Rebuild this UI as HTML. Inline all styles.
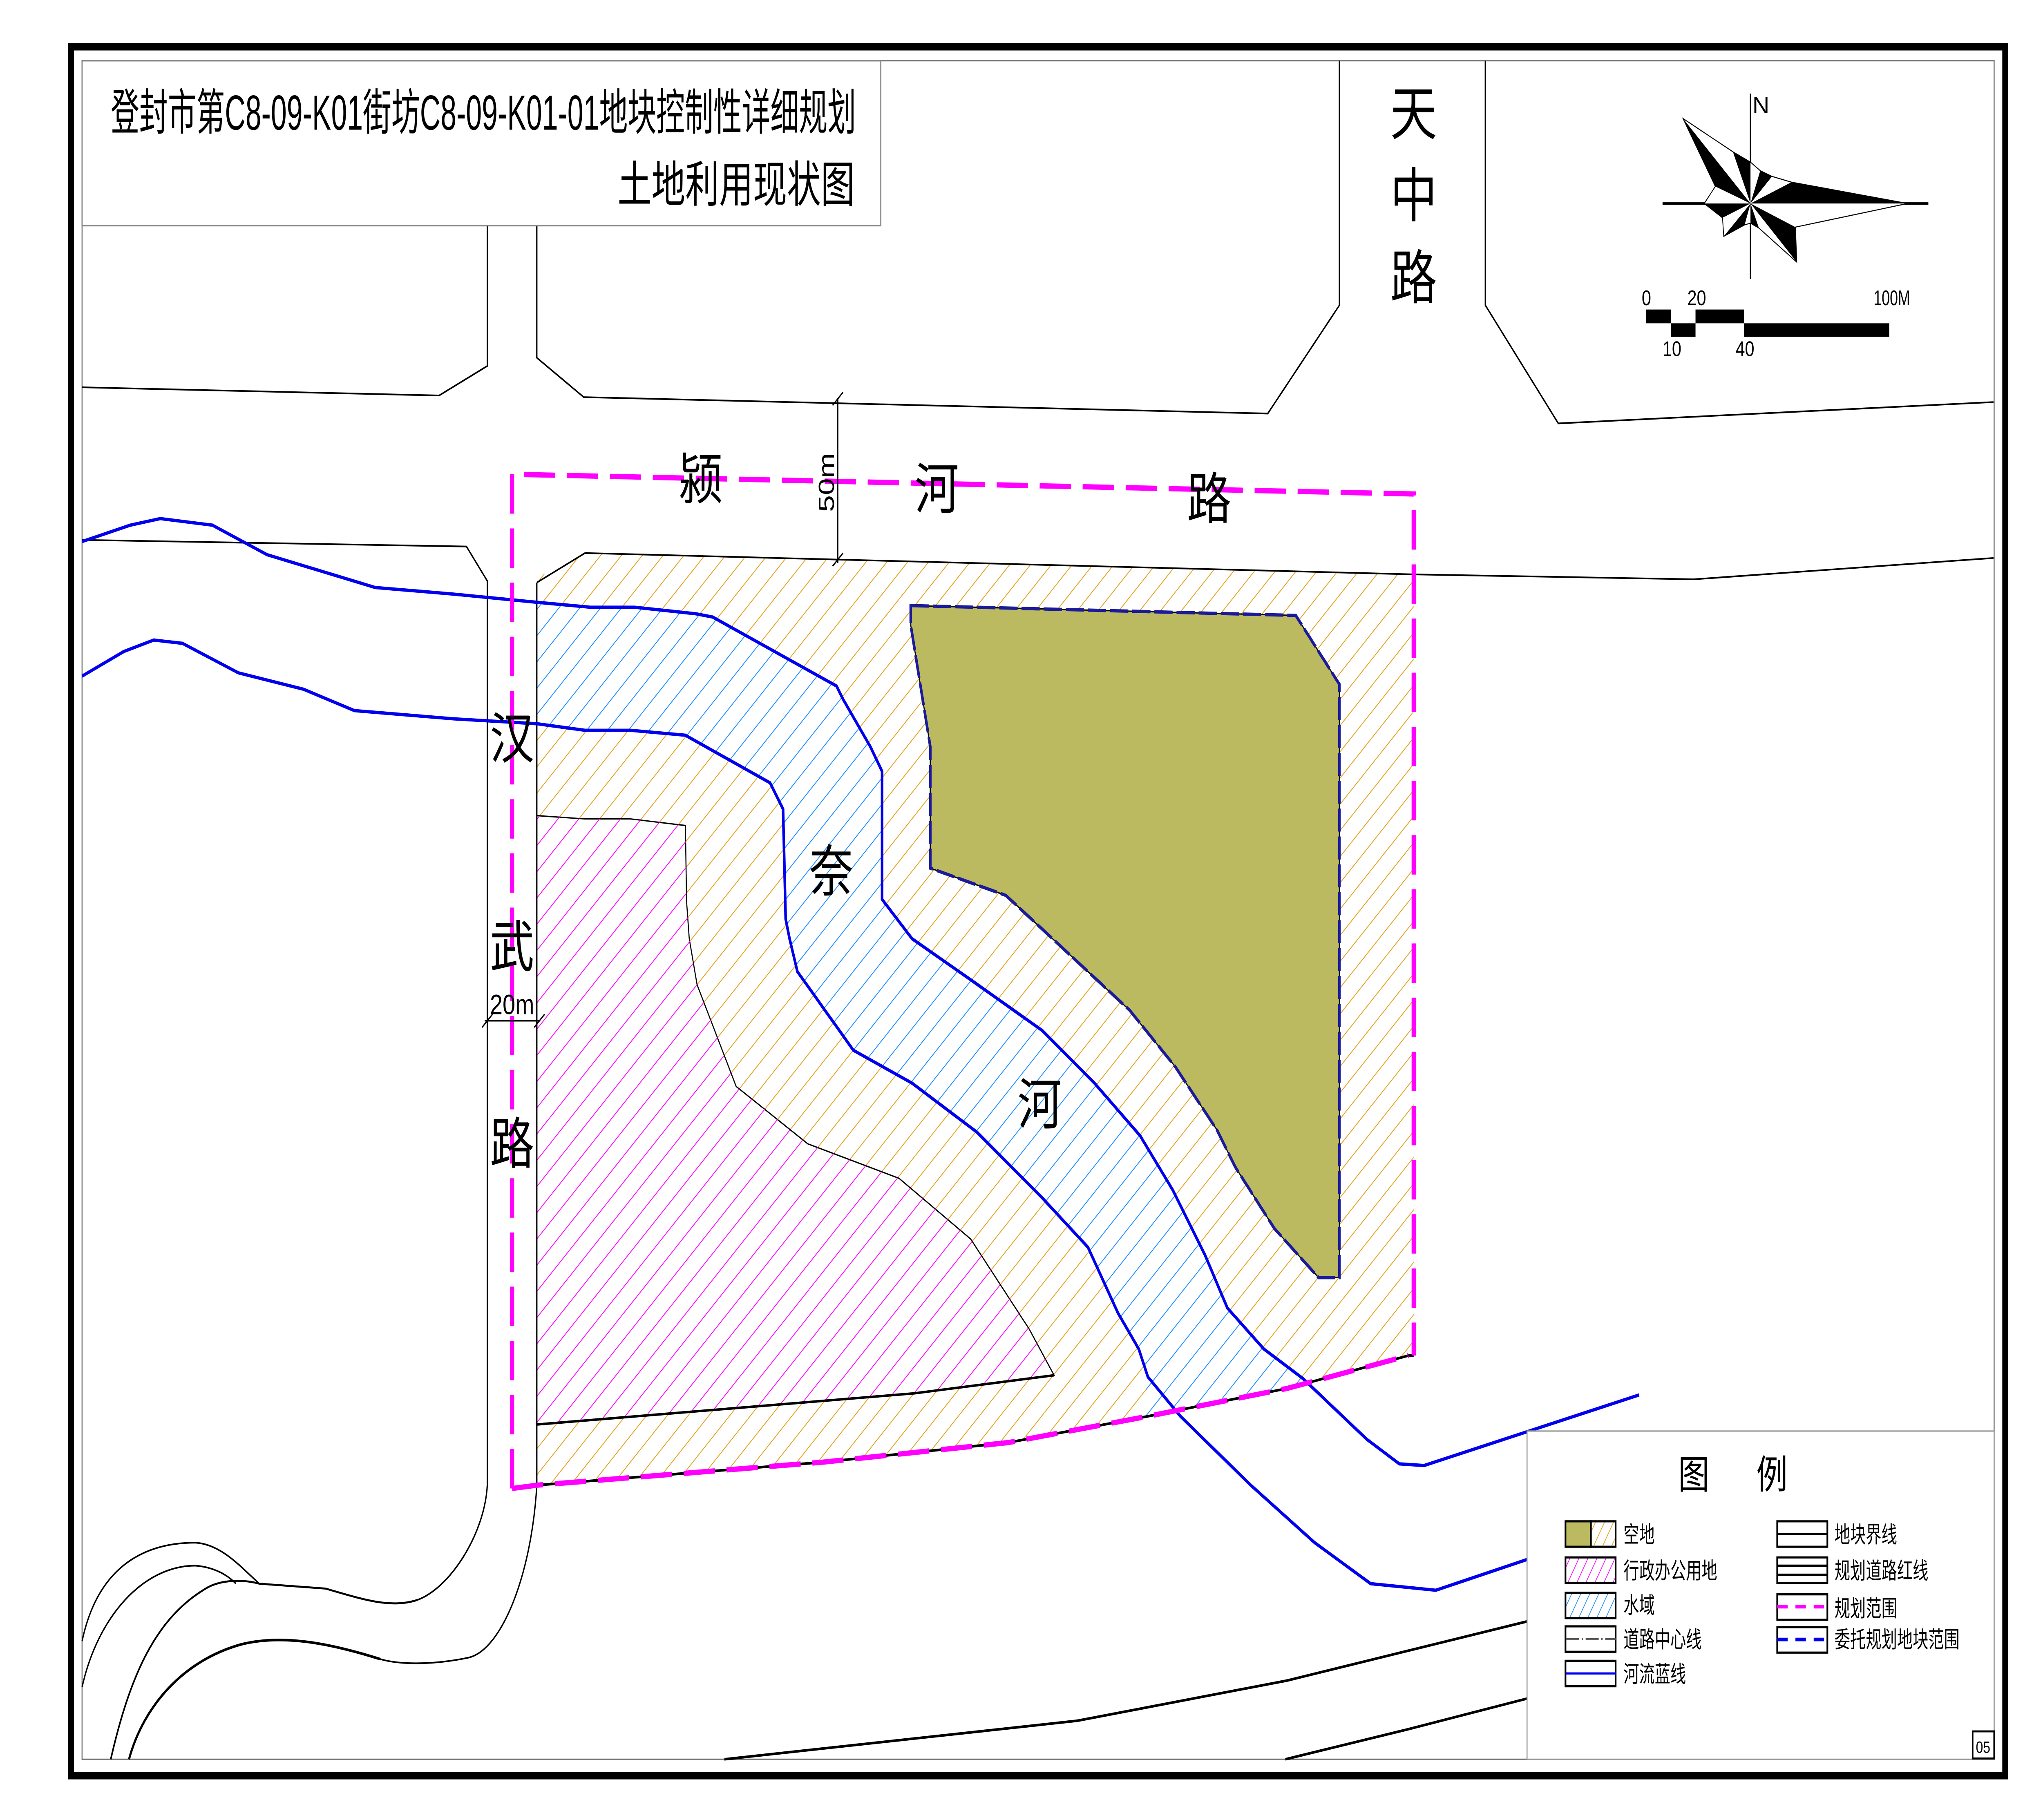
<!DOCTYPE html>
<html><head><meta charset="utf-8">
<style>
html,body{margin:0;padding:0;background:#fff;width:100vw;height:100vh;overflow:hidden;}
svg{display:block;width:100vw;height:100vh;}
text{font-family:"Liberation Sans","Noto Sans CJK SC",sans-serif;}
</style></head>
<body>
<svg viewBox="0 0 1568 1109" preserveAspectRatio="none" xmlns="http://www.w3.org/2000/svg">
<defs>
<pattern id="hO" patternUnits="userSpaceOnUse" width="11.3" height="11.3" patternTransform="rotate(45)">
<line x1="0" y1="0" x2="0" y2="11.3" stroke="#e0a21e" stroke-width="1.1"/></pattern>
<pattern id="hP" patternUnits="userSpaceOnUse" width="11.3" height="11.3" patternTransform="rotate(45)">
<line x1="0" y1="0" x2="0" y2="11.3" stroke="#ff00ff" stroke-width="1.1"/></pattern>
<pattern id="hB" patternUnits="userSpaceOnUse" width="11.3" height="11.3" patternTransform="rotate(45)">
<line x1="0" y1="0" x2="0" y2="11.3" stroke="#1a8cff" stroke-width="1.1"/></pattern>
<pattern id="hOs" patternUnits="userSpaceOnUse" width="6" height="6" patternTransform="rotate(30)">
<line x1="0" y1="0" x2="0" y2="6" stroke="#e0a21e" stroke-width="1"/></pattern>
<pattern id="hPs" patternUnits="userSpaceOnUse" width="6" height="6" patternTransform="rotate(30)">
<line x1="0" y1="0" x2="0" y2="6" stroke="#ff00ff" stroke-width="1"/></pattern>
<pattern id="hBs" patternUnits="userSpaceOnUse" width="6" height="6" patternTransform="rotate(30)">
<line x1="0" y1="0" x2="0" y2="6" stroke="#1a8cff" stroke-width="1"/></pattern>
<clipPath id="site"><path d="M412,352 L450,337 L1085,350 L1085,826 L1081,826 L988,846 L881,863 L774,879 L631,891 L412,905 Z"/></clipPath>
</defs>

<rect x="0" y="0" width="1568" height="1109" fill="#fff"/>
<rect x="54.5" y="28.5" width="1484.5" height="1053.5" fill="none" stroke="#000" stroke-width="4.5"/>
<rect x="63" y="37" width="1467.5" height="1035" fill="none" stroke="#777" stroke-width="0.8"/>

<path d="M412,352 L450,337 L1085,350 L1085,826 L1081,826 L988,846 L881,863 L774,879 L631,891 L412,905 Z" fill="url(#hO)"/>
<g clip-path="url(#site)">
<path d="M412,367 L453,370 L487,370 L534,374 L547,376 L642,418 L647,426 L668,455 L677,470 L677,548 L700,572 L745,597 L800,628 L840,660 L875,692 L900,725 L925,765 L942,797 L970,822 L1000,840 L1049,877 L1060,900 L870,900 L881,839 L874,822 L858,800 L835,760 L800,730 L750,690 L700,660 L655,640 L612,592 L606,572 L603,560 L601,493 L591,477 L526,448 L484,445 L449,445 L412,441 Z" fill="#fff"/>
<path d="M412,367 L453,370 L487,370 L534,374 L547,376 L642,418 L647,426 L668,455 L677,470 L677,548 L700,572 L745,597 L800,628 L840,660 L875,692 L900,725 L925,765 L942,797 L970,822 L1000,840 L1049,877 L1060,900 L870,900 L881,839 L874,822 L858,800 L835,760 L800,730 L750,690 L700,660 L655,640 L612,592 L606,572 L603,560 L601,493 L591,477 L526,448 L484,445 L449,445 L412,441 Z" fill="url(#hB)"/>
</g>
<path d="M412,497 L449,499 L484,499 L526,503 L527,550 L529,572 L535,600 L565,662 L620,697 L690,718 L745,755 L790,810 L809,838 L702,849 L412,868 Z" fill="#fff" stroke="#000" stroke-width="0.8"/>
<path d="M412,497 L449,499 L484,499 L526,503 L527,550 L529,572 L535,600 L565,662 L620,697 L690,718 L745,755 L790,810 L809,838 L702,849 L412,868 Z" fill="url(#hP)"/>
<path d="M412,868 L702,849 L809,838" fill="none" stroke="#000" stroke-width="1.5"/>
<path d="M699,369 L994.5,375 L1028,417 L1028,778.5 L1012,778.5 L978,748.5 L948,711 L934,688.5 L902,650 L867,615.6 L772,545.6 L714,529 L714,455 L699,381 Z" fill="#bbba60" stroke="#000" stroke-width="0.8"/>
<path d="M699,369 L994.5,375 L1028,417 L1028,778.5 L1012,778.5 L978,748.5 L948,711 L934,688.5 L902,650 L867,615.6 L772,545.6 L714,529 L714,455 L699,381 Z" fill="none" stroke="#1a1a9a" stroke-width="2" stroke-dasharray="14,3"/>

<g fill="none" stroke="#000" stroke-width="1">
<path d="M63,236 L337,241 L374,223 L374,137"/>
<path d="M412,137 L412,218 L448,242 L973,252 L1028,186 L1028,37"/>
<path d="M1140,37 L1140,186 L1196,258 L1530,245"/>
<path d="M63,329 L358,333 L374,354 L374,905 C372,935 345,968 320,975"/>
<path d="M412,355 L449,337 L1085,350 L1300,353 L1530,340"/>
<path d="M412,355 L412,905 C408,960 385,1005 360,1010 C330,1015 305,1014 292,1011"/>
<path d="M63,1000 C75,955 110,940 150,940 C170,941 185,955 199,965"/>
<path d="M63,1028 C75,985 110,954 150,954 C165,955 175,960 181,965"/>
</g>
<g fill="none" stroke="#000" stroke-width="1.6">
<path d="M320,975 C300,980 280,975 250,968 L199,965 C185,962 170,963 160,967 C120,985 100,1020 85,1072" stroke-width="1.2"/>
<path d="M292,1011 C260,1003 220,995 185,1002 C140,1012 110,1040 99,1072"/>
<path d="M556,1072 L827,1048.5 L988,1024 L1172,988"/>
<path d="M986.5,1072 L1080.7,1053.7 L1172,1035"/>
<path d="M412,905 L631,891 L774,879 L881,863 L988,846 L1081,826 L1085,826"/>
</g>

<g fill="none" stroke="#0000ee" stroke-width="2">
<path d="M63,330 L100,320 L123,316 L163,320 L205,338 L288,358 L348,362 L412,367 L453,370 L487,370 L534,374 L547,376 L642,418 L647,426 L668,455 L677,470 L677,548 L700,572 L745,597 L800,628 L840,660 L875,692 L900,725 L925,765 L942,797 L970,822 L1000,840 L1049,877 L1074,892 L1093,893 L1258,850"/>
<path d="M63,412 L95,397 L118,390 L140,392 L183,410 L233,420 L272,433 L348,438 L412,441 L449,445 L484,445 L526,448 L591,477 L601,493 L603,560 L606,572 L612,592 L655,640 L700,660 L750,690 L800,730 L835,760 L858,800 L874,822 L881,839 L906,863 L960,905 L1009,940 L1052,965 L1102,969 L1173,950"/>
</g>

<path d="M393,907 L393,289 L1085,301 L1085,826 M393,907 L412,905 L631,891 L774,879 L881,863 L988,846 L1081,826" fill="none" stroke="#ff00ff" stroke-width="3.2" stroke-dasharray="24,9"/>

<g stroke="#000" stroke-width="0.9">
<line x1="643" y1="243" x2="643" y2="343"/>
<line x1="639" y1="247" x2="647" y2="239"/><line x1="639" y1="345" x2="647" y2="337"/>
<line x1="372" y1="622" x2="414" y2="622"/>
<line x1="370" y1="626" x2="378" y2="618"/><line x1="410" y1="626" x2="418" y2="618"/>
</g>
<text x="0" y="0" font-family="Liberation Serif,serif" font-size="17" transform="translate(640,312) rotate(-90)" textLength="36" lengthAdjust="spacingAndGlyphs">50m</text>
<text x="376" y="618" font-family="Liberation Serif,serif" font-size="17" textLength="34" lengthAdjust="spacingAndGlyphs">20m</text>

<g font-size="34" text-anchor="middle">
<text x="538" y="304">颍</text>
<text x="719" y="310">河</text>
<text x="928" y="316">路</text>
<text x="393" y="462">汉</text>
<text x="393" y="589">武</text>
<text x="393" y="709">路</text>
<text x="638" y="543">奈</text>
<text x="798" y="685">河</text>
<text x="1085" y="82" font-size="36">天</text>
<text x="1085" y="132" font-size="36">中</text>
<text x="1085" y="182" font-size="36">路</text>
</g>

<rect x="63" y="37" width="613" height="100.5" fill="#fff" stroke="#888" stroke-width="0.9"/>
<text x="85" y="79" font-size="30" textLength="572" lengthAdjust="spacingAndGlyphs">登封市第C8-09-K01街坊C8-09-K01-01地块控制性详细规划</text>
<text x="474" y="123" font-size="30" textLength="182" lengthAdjust="spacingAndGlyphs">土地利用现状图</text>

<g>
<line x1="1276" y1="124" x2="1480" y2="124" stroke="#000" stroke-width="1.5"/>
<line x1="1343.5" y1="57" x2="1343.5" y2="170" stroke="#000" stroke-width="1"/>
<path d="M1291.7,72.2 L1330,92.5 L1343.5,98.8 L1351,104 L1360,107.5 L1375,111 L1464,124 L1378,138.4 L1379,159.7 L1350,139 L1343.5,136 L1339,137 L1323,144 L1322,132.7 L1308,124 L1316.5,113.6 Z" fill="#fff" stroke="#000" stroke-width="0.6"/>
<g fill="#000">
<path d="M1343.5,124 L1291.7,72.2 L1316.5,113.6 Z"/>
<path d="M1343.5,124 L1330,92.5 L1343.5,98.8 Z"/>
<path d="M1343.5,124 L1351,104 L1360,107.5 Z"/>
<path d="M1343.5,124 L1375,111 L1464,124 Z"/>
<path d="M1343.5,124 L1378,138.4 L1379,159.7 Z"/>
<path d="M1343.5,124 L1350,139 L1343.5,136 Z"/>
<path d="M1343.5,124 L1339,137 L1323,144 Z"/>
<path d="M1343.5,124 L1322,132.7 L1308,124 Z"/>
</g>
<text x="1345" y="69" font-size="14" textLength="13" lengthAdjust="spacingAndGlyphs">N</text>
<rect x="1263.4" y="188.6" width="19.1" height="8.4" fill="#000"/>
<rect x="1282.5" y="197" width="18.8" height="8.3" fill="#000"/>
<rect x="1301.3" y="188.6" width="37.2" height="8.4" fill="#000"/>
<rect x="1338.5" y="197" width="111.5" height="8.3" fill="#000"/>
<g font-family="Liberation Serif,serif" font-size="13">
<text x="1260" y="186">0</text>
<text x="1295" y="186">20</text>
<text x="1438" y="186" textLength="28" lengthAdjust="spacingAndGlyphs">100M</text>
<text x="1276" y="217">10</text>
<text x="1332" y="217">40</text>
</g>
</g>

<rect x="1172" y="872" width="358.5" height="200" fill="#fff" stroke="#999" stroke-width="0.8"/>
<text x="1300" y="907" font-size="24" text-anchor="middle">图</text>
<text x="1360" y="907" font-size="24" text-anchor="middle">例</text>
<g stroke="#000" stroke-width="1.3">
<rect x="1201.5" y="927" width="19.5" height="15.5" fill="#bbba60"/>
<rect x="1221" y="927" width="19" height="15.5" fill="url(#hOs)"/>
<rect x="1201.5" y="949" width="38.5" height="15.5" fill="url(#hPs)"/>
<rect x="1201.5" y="970.5" width="38.5" height="15.5" fill="url(#hBs)"/>
<rect x="1201.5" y="991" width="38.5" height="15.5" fill="#fff"/>
<rect x="1201.5" y="1012" width="38.5" height="15.5" fill="#fff"/>
<rect x="1364" y="927" width="38.5" height="15.5" fill="#fff"/>
<rect x="1364" y="949" width="38.5" height="15.5" fill="#fff"/>
<rect x="1364" y="971.5" width="38.5" height="15.5" fill="#fff"/>
<rect x="1364" y="991.5" width="38.5" height="15.5" fill="#fff"/>
</g>
<line x1="1202" y1="998.7" x2="1240" y2="998.7" stroke="#555" stroke-width="1" stroke-dasharray="10,2,1,2"/>
<line x1="1202" y1="1019.7" x2="1240" y2="1019.7" stroke="#0000ee" stroke-width="1.3"/>
<line x1="1364" y1="934.7" x2="1402" y2="934.7" stroke="#000" stroke-width="1.3"/>
<line x1="1364" y1="954" x2="1402" y2="954" stroke="#000" stroke-width="1.3"/>
<line x1="1364" y1="959.5" x2="1402" y2="959.5" stroke="#000" stroke-width="1.3"/>
<line x1="1364" y1="979" x2="1402" y2="979" stroke="#ff00ff" stroke-width="2.2" stroke-dasharray="8,6"/>
<line x1="1364" y1="999" x2="1402" y2="999" stroke="#0000ee" stroke-width="2.2" stroke-dasharray="8,6"/>
<g font-size="14">
<text x="1246" y="940" textLength="24" lengthAdjust="spacingAndGlyphs">空地</text>
<text x="1246" y="962" textLength="72" lengthAdjust="spacingAndGlyphs">行政办公用地</text>
<text x="1246" y="983" textLength="24" lengthAdjust="spacingAndGlyphs">水域</text>
<text x="1246" y="1004" textLength="60" lengthAdjust="spacingAndGlyphs">道路中心线</text>
<text x="1246" y="1025" textLength="48" lengthAdjust="spacingAndGlyphs">河流蓝线</text>
<text x="1408" y="940" textLength="48" lengthAdjust="spacingAndGlyphs">地块界线</text>
<text x="1408" y="962" textLength="72" lengthAdjust="spacingAndGlyphs">规划道路红线</text>
<text x="1408" y="985" textLength="48" lengthAdjust="spacingAndGlyphs">规划范围</text>
<text x="1408" y="1004" textLength="96" lengthAdjust="spacingAndGlyphs">委托规划地块范围</text>
</g>
<rect x="1514" y="1055" width="16.5" height="16.5" fill="#fff" stroke="#000" stroke-width="1.2"/>
<text x="1522" y="1068" font-size="10" text-anchor="middle">05</text>
</svg>
</body></html>
